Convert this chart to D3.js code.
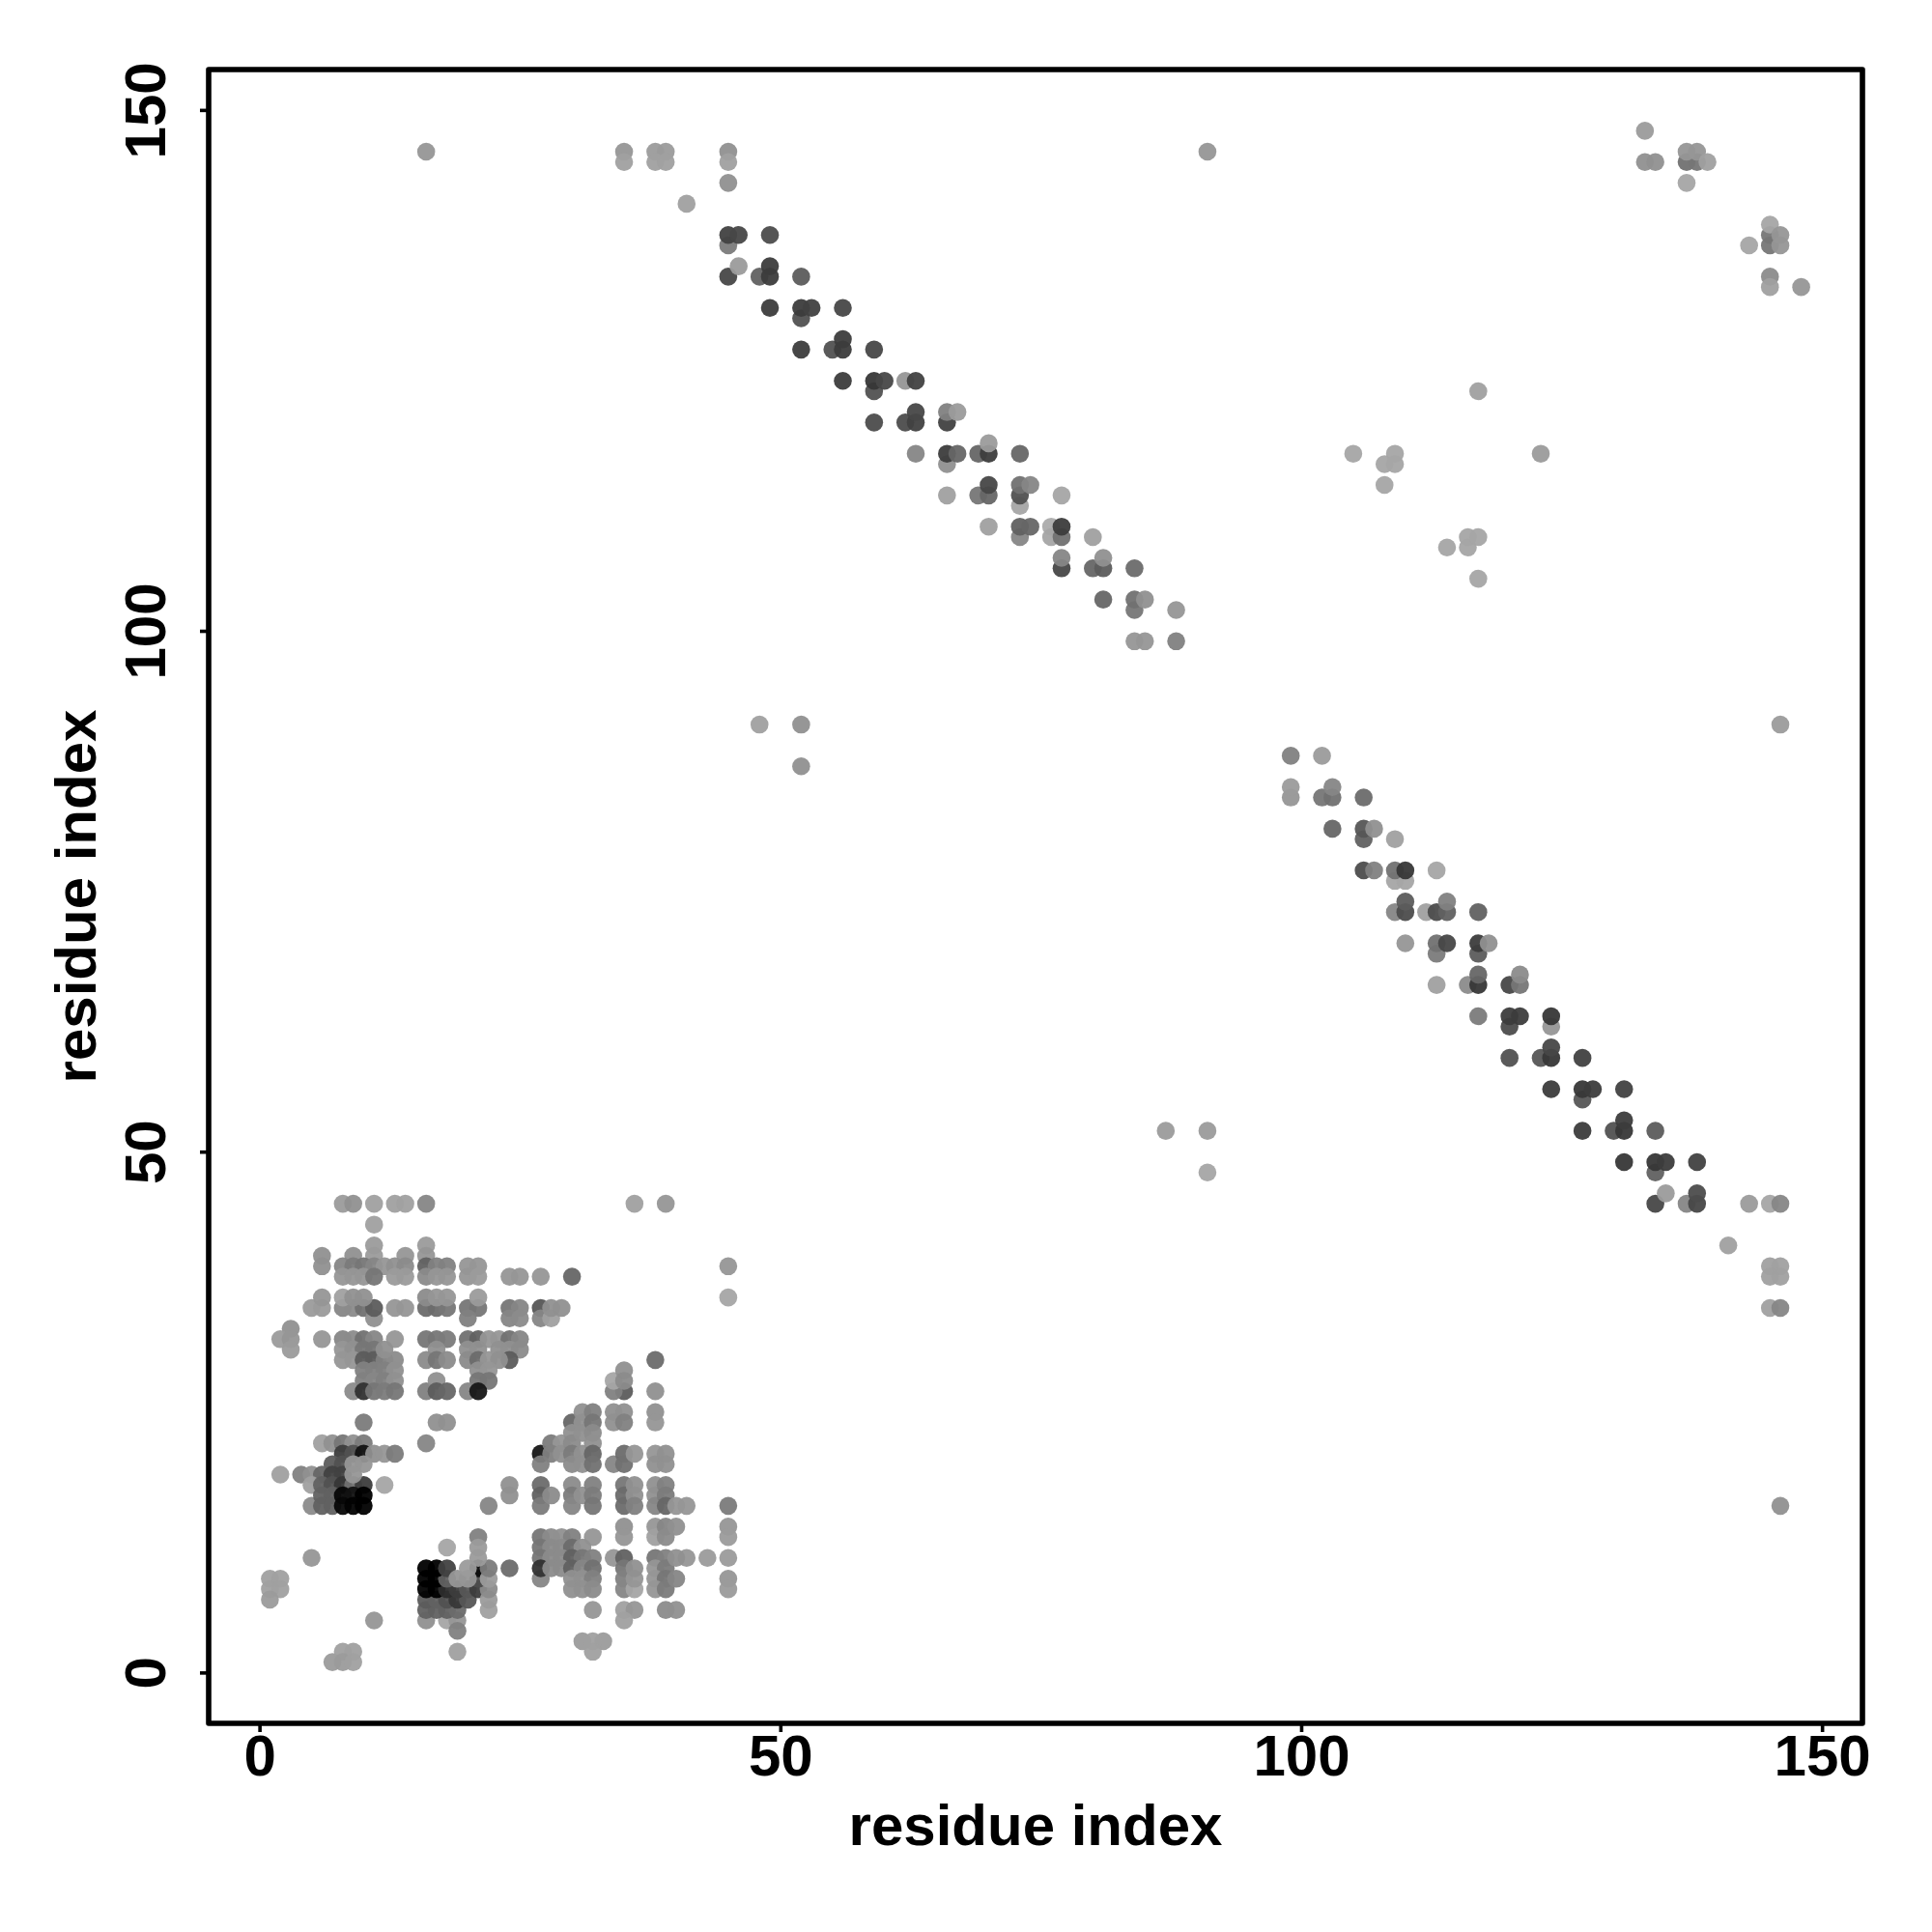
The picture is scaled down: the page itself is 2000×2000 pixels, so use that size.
<!DOCTYPE html>
<html><head><meta charset="utf-8">
<script src="https://cdn.jsdelivr.net/npm/d3@7"></script>
<style>
html,body{margin:0;padding:0;background:#fff}
svg{display:block}
text{font-family:"Liberation Sans",Arial,sans-serif;font-weight:bold;fill:#000}
</style></head><body>
<svg id="c" width="2000" height="2000"></svg>
<script>
const xLabel = "residue index", yLabel = "residue index";
const tickLabels = [0, 50, 100, 150];

const cluster1 = [
 [8,45,160],[9,45,150],[11,45,165],[13,45,165],[14,45,165],[16,45,140],[11,43,165],[11,41,160],[16,41,160],
 [6,40,150],[9,40,150],[11,40,160],[14,40,155],[16,40,155],
 [8,39,140],[9,39,130],[10,39,125],[11,39,140],[12,39,155],[13,39,150],[14,39,145],[6,39,150],[16,39,105],[17,39,135],[18,39,135],[20,39,155],[21,39,155],
 [8,38,155],[9,38,155],[10,38,155],[11,38,125],[13,38,160],[14,38,160],[16,38,145],[17,38,155],[18,38,155],[20,38,155],[21,38,160],[24,38,155],[25,38,155],[27,38,155],[30,38,110],
 [8,35,140],[9,35,145],[10,35,120],[11,34,150],[11,35,100],[13,35,155],[14,35,155],[5,35,160],[6,35,160],[16,35,115],[17,35,115],[18,35,125],[20,35,125],[21,35,125],[24,35,125],[25,35,140],[27,35,95],[27,34,140],[28,34,165],[28,35,150],[29,35,150],
 [6,36,155],[8,36,165],[9,36,150],[10,36,150],[16,36,145],[17,36,155],[18,36,155],[20,34,135],[21,36,160],[24,34,140],[25,34,145],
 [3,33,150],[2,32,160],[3,32,155],[3,31,160],[6,32,155],
 [8,32,140],[9,32,145],[10,32,120],[11,32,140],[13,32,155],[16,32,125],[17,32,125],[18,32,130],[20,32,120],[21,32,105],[22,32,155],[23,32,155],[24,32,120],[25,32,140],
 [8,31,155],[9,31,150],[10,31,125],[11,31,125],[8,30,155],[9,30,155],[10,30,100],[11,30,100],[12,30,135],[13,30,145],[12,31,150],[17,31,150],
 [16,30,145],[17,30,125],[18,30,145],[20,31,150],[21,31,150],[23,31,150],[24,31,150],[25,31,145],[20,30,145],[21,30,115],[24,30,100],[22,30,155],[23,30,150],
 [10,29,135],[11,29,135],[12,29,135],[13,29,150],[10,28,135],[11,28,140],[12,28,135],[13,28,150],[21,29,150],[22,29,155],[21,28,125],[22,28,125],
 [9,27,145],[10,27,60],[11,27,125],[12,27,130],[13,27,125],[16,27,135],[17,28,150],[17,27,100],[18,27,110],[20,27,140],[21,27,35],
 [10,24,130],[17,24,150],[18,24,150],[16,22,140]
];
const cluster2 = [
 [6,22,165],[7,22,150],[8,22,125],[9,22,150],[10,22,130],[8,21,70],[9,21,90],[10,21,30],[11,21,150],[12,21,155],[13,21,130],
 [7,20,100],[8,20,90],[2,19,165],[4,19,135],[5,19,150],[6,19,110],[7,19,75],[8,19,75],[5,18,165],[6,18,105],[7,18,90],[8,18,65],[9,18,120],[10,18,70],[9,20,155],[10,20,155],[9,19,155],[12,18,170],
 [5,16,145],[6,17,105],[7,17,105],[6,16,105],[7,16,105],[8,17,20],[9,17,30],[10,17,5],[8,16,20],[9,16,15],[10,16,10],
 [5,11,155],[1,9,165],[2,9,165],[1,8,165],[2,8,165],[1,7,160],[11,5,155],[7,1,160],[8,2,165],[9,2,165],[8,1,160],[9,1,165]
];
const cluster3 = [
 [22,16,140],[24,18,150],[24,17,150],
 [16,5,150],[18,5,170],[19,5,155],[19,4,135],[19,2,165],
 [16,6,105],[17,6,105],[18,6,105],[19,6,115],[16,7,100],[17,7,105],[18,7,90],[19,7,65],[20,7,95],
 [16,8,15],[17,8,10],[18,8,55],[19,8,70],[20,8,95],[21,8,70],[22,6,165],[22,7,160],[22,8,145],
 [16,9,10],[17,9,10],[18,9,105],[21,9,85],[16,10,10],[17,10,10],[18,10,75],[21,10,25],[19,9,155],[20,9,155],[20,10,160],[22,9,160],[22,10,130],[24,10,115],
 [18,12,170],[21,13,135],[21,12,160],[21,11,160],
 [27,21,35],[27,20,135],[28,22,130],[29,22,155],[28,21,135],[29,21,150],
 [30,24,110],[30,23,150],[30,22,145],[30,21,130],[30,20,145],[31,25,150],[31,24,150],[31,23,150],[31,21,150],[31,20,150],
 [32,25,135],[32,24,125],[32,23,145],[32,22,150],[32,21,110],[32,20,120],
 [34,20,140],[35,21,115],[35,20,120],[36,21,155],[38,21,155],[39,21,150],[38,20,150],[39,20,150],
 [34,25,150],[35,25,150],[34,24,150],[35,24,135],[38,25,150],[38,24,155],[35,27,100],[34,27,135],[34,28,170],[35,29,150],[35,28,145],[38,27,150],[38,30,115],
 [27,18,115],[27,17,105],[27,16,130],[28,17,145],[30,18,145],[30,17,130],[30,16,140],[31,17,150],[32,18,135],[32,17,130],[32,16,125],
 [35,18,125],[35,17,115],[35,16,115],[36,18,150],[36,17,150],[36,16,135],[38,18,150],[38,17,150],[38,16,140],[39,18,135],[39,17,130],[39,16,110],[40,16,155],[41,16,155],[45,16,130],
 [35,14,150],[35,13,155],[38,14,155],[38,13,165],[39,14,140],[39,13,145],[40,14,150],[45,14,155],[45,13,160],
 [27,13,125],[28,13,145],[29,13,150],[30,13,135],[32,13,155],[27,12,125],[28,12,145],[29,12,145],[30,12,115],[31,12,150],
 [27,11,125],[28,11,145],[29,11,145],[30,11,105],[31,11,125],[32,11,135],[34,11,155],[35,11,105],[38,11,125],[39,11,135],[41,11,155],[43,11,160],[45,11,160],
 [27,9,140],[27,10,60],[28,10,145],[29,10,145],[30,10,105],[31,10,140],[32,10,120],[35,10,125],[35,9,135],[35,8,140],[36,8,170],[36,9,155],[36,10,150],[38,10,155],[39,10,130],
 [30,9,150],[31,9,150],[32,9,135],[38,9,155],[39,9,125],[38,8,155],[39,8,130],[40,9,140],[40,11,150],[45,9,155],[45,8,160],
 [30,8,150],[31,8,150],[32,8,145],[32,6,155],[35,6,165],[36,6,155],[35,5,165],[39,6,145],[40,6,150],[31,3,160],[33,3,160],[32,3,165],[32,2,165]
];
const diagonalUpper = [
 [45,137,130],[45,138,75],[46,138,80],[49,138,85],[45,134,80],[46,135,160],[48,134,105],[49,134,70],[49,135,70],[52,134,100],
 [49,131,70],[52,130,90],[52,131,70],[53,131,75],[56,131,80],[52,127,70],[55,127,90],[56,127,70],[56,128,70],[59,127,80],
 [56,124,70],[59,123,90],[59,124,65],[60,124,80],[62,124,155],[63,124,75],[59,120,85],[62,120,85],[63,120,75],[63,121,80],
 [66,120,75],[66,121,135],[67,121,160],[63,117,140],[66,116,150],[66,117,70],[67,117,110],[69,117,110],[70,117,70],[70,118,160],[73,117,110],
 [66,113,165],[69,113,125],[70,113,110],[70,114,80],[73,112,170],[73,113,90],[73,114,120],[74,114,140],[77,113,170],
 [70,110,165],[73,109,140],[73,110,105],[74,110,110],[76,110,175],[76,109,170],[77,109,120],[77,110,70],[80,109,165],
 [77,106,80],[77,107,140],[80,106,110],[81,106,100],[81,107,150],[84,106,115],[81,103,110],[84,102,125],[84,103,120],[85,103,150],[88,102,155],[84,99,155],[85,99,155],[88,99,135]
];
const diagonalLower = [
 [99,88,135],[102,88,160],[99,84,155],[99,85,160],[102,84,125],[103,84,120],[103,85,140],[106,84,115],
 [103,81,110],[106,80,105],[106,81,95],[107,81,150],[109,80,165],[106,77,85],[107,77,135],[109,76,170],[110,76,170],[109,77,120],[110,77,65],[113,77,170],
 [109,73,140],[110,73,85],[110,74,100],[112,73,165],[113,73,85],[114,73,105],[114,74,135],[117,73,105],
 [110,70,155],[113,69,130],[113,70,120],[114,70,80],[117,69,100],[117,70,70],[118,70,150],
 [113,66,165],[116,66,145],[117,66,65],[117,67,110],[120,66,80],[121,66,125],[121,67,145],
 [117,63,130],[120,62,85],[120,63,70],[121,63,70],[124,62,155],[124,63,65],
 [120,59,90],[123,59,95],[124,59,65],[124,60,80],[127,59,75],[124,56,70],[127,55,95],[127,56,65],[128,56,70],[131,56,75],
 [127,52,70],[130,52,90],[131,52,65],[131,53,70],[134,52,100],[131,49,65],[134,48,105],[134,49,65],[135,49,70],[138,49,75],
 [134,45,80],[135,46,160],[137,45,140],[138,45,80],[138,46,85]
];
const scattered = [
 [16,146,155],[35,146,155],[35,145,165],[38,146,160],[39,146,160],[38,145,165],[39,145,165],[45,146,150],[45,145,165],[45,143,150],[41,141,165],[91,146,155],
 [133,148,160],[133,145,150],[134,145,150],[137,145,120],[138,145,125],[137,146,155],[138,146,155],[139,145,165],[137,143,170],
 [143,137,170],[145,137,125],[145,138,125],[145,139,170],[146,138,155],[146,137,155],[145,134,145],[145,133,165],[148,133,155],
 [117,123,165],[105,117,170],[109,117,170],[108,116,170],[109,116,170],[108,114,170],[123,117,160],
 [114,108,170],[116,108,170],[116,109,170],[117,109,170],[117,105,170],
 [48,91,165],[52,91,150],[52,87,150],[146,91,160],[87,52,160],[91,52,160],[91,48,170],
 [141,41,165],[143,45,160],[145,45,170],[146,45,140],[145,39,165],[146,39,165],[145,38,165],[146,38,165],[145,35,165],[146,35,140],[146,16,150],
 [36,45,165],[39,45,155],[45,39,155],[45,36,170]
];
const contacts = [...cluster1, ...cluster2, ...cluster3, ...diagonalUpper, ...diagonalLower, ...scattered];

const svg = d3.select("#c");
const W = 2000, H = 2000;
const frame = {left:216, right:1928, top:72, bottom:1784};
const dataMin = d3.min(contacts, d => d[0]), dataMax = d3.max(contacts, d => d[0]);
const pad = (dataMax - dataMin) * 0.04;
const x = d3.scaleLinear().domain([dataMin - pad, dataMax + pad]).range([frame.left, frame.right]);
const y = d3.scaleLinear().domain([dataMin - pad, dataMax + pad]).range([frame.bottom, frame.top]);
const markOpacity = 0.95;
const fill = d3.scaleLinear().domain([13, 255]).range(["#000", "#fff"]).clamp(true);

svg.append("rect").attr("width", W).attr("height", H).attr("fill", "#fff");

svg.append("g").selectAll("circle").data(contacts).join("circle")
  .attr("cx", d => x(d[0])).attr("cy", d => y(d[1])).attr("r", 9.3)
  .attr("fill", d => fill(d[2])).attr("fill-opacity", markOpacity);

const gx = svg.append("g").attr("transform", `translate(0,${frame.bottom})`)
  .call(d3.axisBottom(x).tickValues(tickLabels).tickSize(9).tickPadding(8).tickFormat(d3.format("d")));
const gy = svg.append("g").attr("transform", `translate(${frame.left},0)`)
  .call(d3.axisLeft(y).tickValues(tickLabels).tickSize(9).tickPadding(8).tickFormat(d3.format("d")));
[gx, gy].forEach(g => {
  g.select(".domain").remove();
  g.selectAll(".tick line").attr("stroke", "#000").attr("stroke-width", 3.6);
  g.selectAll("text").attr("font-family", '"Liberation Sans",Arial,sans-serif').attr("font-weight", "bold").attr("font-size", 60).attr("fill", "#000");
});
gx.selectAll(".tick text").attr("dy", null).attr("y", 54).attr("text-anchor", "middle");
gy.selectAll(".tick text").attr("x", null).attr("dy", null).attr("text-anchor", "middle")
  .attr("transform", "translate(-45,0) rotate(-90)");

svg.append("rect").attr("x", frame.left).attr("y", frame.top)
  .attr("width", frame.right - frame.left).attr("height", frame.bottom - frame.top)
  .attr("fill", "none").attr("stroke", "#000").attr("stroke-width", 5.6).attr("stroke-linejoin", "round");

svg.append("text").attr("x", (frame.left + frame.right) / 2).attr("y", 1910)
  .attr("text-anchor", "middle").attr("font-size", 60).text(xLabel);
svg.append("text").attr("transform", `translate(99,${(frame.top + frame.bottom) / 2}) rotate(-90)`)
  .attr("text-anchor", "middle").attr("font-size", 60).text(yLabel);
</script>
</body></html>
